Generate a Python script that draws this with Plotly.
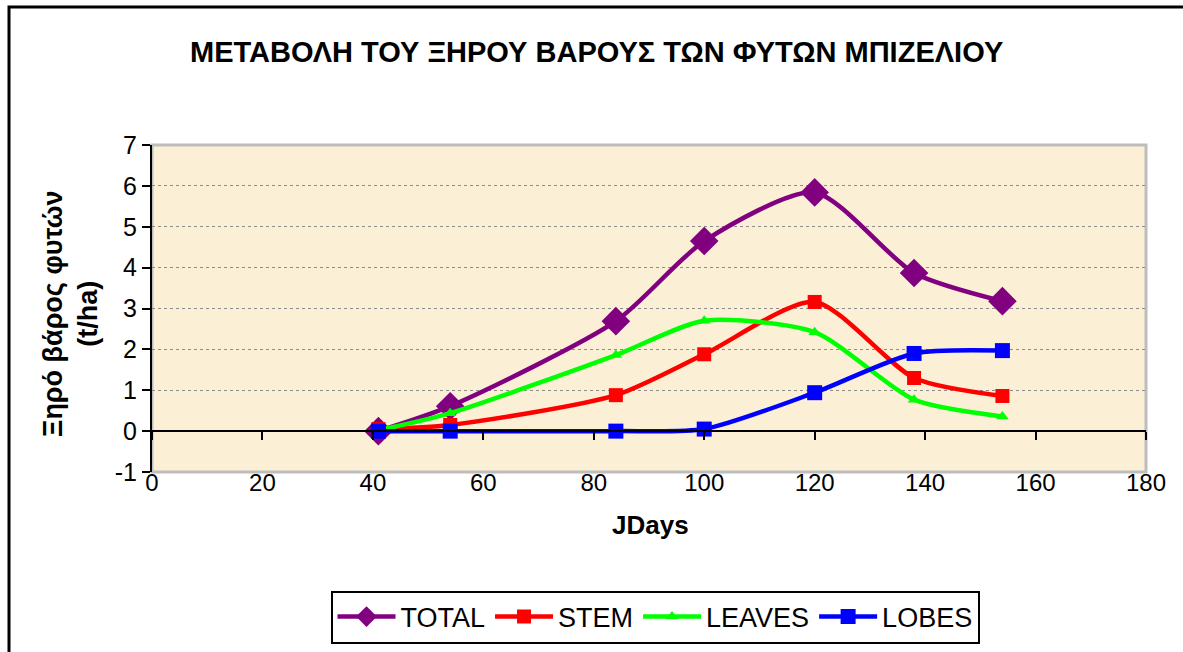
import plotly.graph_objects as go

# Μεταβολή ξηρού βάρους φυτών μπιζελιού (t/ha)
jdays = [41, 54, 84, 100, 120, 138, 154]
total = [0.0, 0.61, 2.69, 4.65, 5.84, 3.87, 3.18]
stem = [0.05, 0.15, 0.88, 1.88, 3.16, 1.30, 0.86]
leaves = [0.02, 0.44, 1.86, 2.70, 2.42, 0.77, 0.36]
lobes = [0.0, 0.0, 0.0, 0.05, 0.94, 1.90, 1.97]

x_ticks = [0, 20, 40, 60, 80, 100, 120, 140, 160, 180]
y_ticks = [-1, 0, 1, 2, 3, 4, 5, 6, 7]
y_tick_labels = ["-1", "0", "1", "2", "3", "4", "5", "6", "7"]

font = "Liberation Sans, Arial, sans-serif"

series = [
    ("TOTAL", total, "#800080", "diamond", 22),
    ("STEM", stem, "#FF0000", "square", 14),
    ("LEAVES", leaves, "#00FF00", "triangle-up", 11),
    ("LOBES", lobes, "#0000FF", "square", 15),
]

fig = go.Figure()
for name, vals, col, sym, size in series:
    fig.add_trace(go.Scatter(
        x=jdays, y=vals, name=name, mode="lines+markers",
        line=dict(color=col, width=4.5, shape="spline", smoothing=0.7),
        marker=dict(symbol=sym, size=size, color=col),
    ))

# dummy trace so the zero-crossing axis gets drawn
fig.add_trace(go.Scatter(x=[0], y=[None], xaxis="x2", showlegend=False,
                         hoverinfo="skip", mode="lines"))

fig.update_layout(
    width=1183, height=652,
    margin=dict(l=152, r=37, t=145, b=180, autoexpand=False),
    paper_bgcolor="white",
    plot_bgcolor="#FBF0D6",
    showlegend=True,
    legend=dict(
        orientation="h", x=(655 - 152) / 994, xanchor="center",
        y=(472 - 617) / 327, yanchor="middle",
        bordercolor="black", borderwidth=2, bgcolor="white",
        font=dict(family=font, size=27, color="black"),
        itemwidth=58, tracegroupgap=0,
    ),
    xaxis=dict(
        range=[0, 180], tickvals=x_ticks, showgrid=False, zeroline=False,
        showline=False, ticks="", ticklabelstandoff=-6,
        tickfont=dict(family=font, size=24, color="black"),
    ),
    xaxis2=dict(
        range=[0, 180], tickvals=x_ticks, overlaying="x", anchor="free", position=0.125,
        showline=True, linecolor="black", linewidth=2, ticks="outside", ticklen=8,
        tickwidth=2, tickcolor="black", showticklabels=False, showgrid=False, zeroline=False,
    ),
    yaxis=dict(
        range=[-1, 7], tickvals=y_ticks, ticktext=y_tick_labels, showgrid=True,
        gridcolor="#8C8C8C", griddash="dot", gridwidth=1, zeroline=False, showline=True,
        linecolor="black", linewidth=2, ticks="outside", ticklen=8, tickwidth=2,
        tickcolor="black", tickfont=dict(family=font, size=25, color="black"),
    ),
    annotations=[
        dict(text="<b>ΜΕΤΑΒΟΛΗ ΤΟΥ ΞΗΡΟΥ ΒΑΡΟΥΣ ΤΩΝ ΦΥΤΩΝ ΜΠΙΖΕΛΙΟΥ</b>",
             xref="paper", yref="paper", x=(596 - 152) / 994, y=(472 - 52) / 327,
             xanchor="center", yanchor="middle", showarrow=False,
             font=dict(family=font, size=29, color="black")),
        dict(text="<b>Ξηρό βάρος φυτών<br>(t/ha)</b>", textangle=-90,
             xref="paper", yref="paper", x=(70 - 152) / 994, y=(472 - 314) / 327,
             xanchor="center", yanchor="middle", showarrow=False,
             font=dict(family=font, size=27, color="black")),
        dict(text="<b>JDays</b>", xref="paper", yref="paper",
             x=(650 - 152) / 994, y=(472 - 525) / 327,
             xanchor="center", yanchor="middle", showarrow=False,
             font=dict(family=font, size=26, color="black")),
    ],
    shapes=[
        # gray frame / shadow of the plot area
        dict(type="rect", xref="paper", yref="paper", x0=0, x1=1, y0=0, y1=1,
             line=dict(color="#BDBDBD", width=3), layer="below"),
        # outer chart border
        dict(type="rect", xref="paper", yref="paper",
             x0=(9 - 152) / 994, x1=1.2, y0=-0.7, y1=(472 - 7) / 327,
             line=dict(color="black", width=3)),
    ],
)

# page body margin off so the figure sits at the window origin
fig.write_html("out.html", config={"displayModeBar": False},
               post_script="document.body.style.margin='0';")
